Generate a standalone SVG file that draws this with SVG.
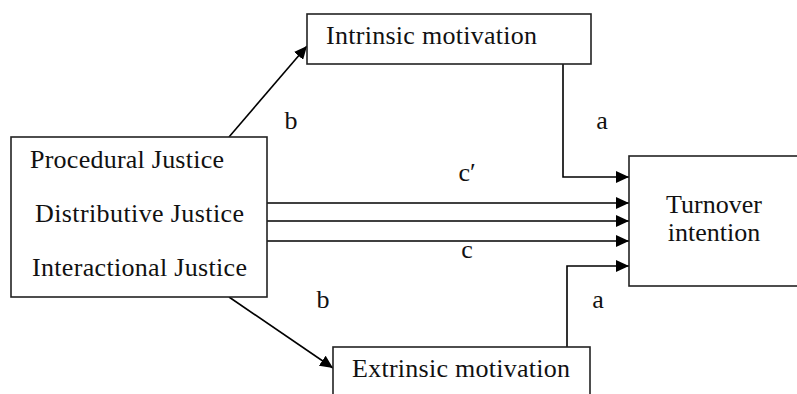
<svg xmlns="http://www.w3.org/2000/svg" width="797" height="394" viewBox="0 0 797 394">
<style>
.box{fill:#fff;stroke:#222;stroke-width:1.6}
.t{font-family:"Liberation Serif","Times New Roman",serif;font-size:26px;fill:#111}
.ln{fill:none;stroke:#000;stroke-width:1.6}
</style>
<defs>
<marker id="ah" viewBox="0 0 13 12" refX="13" refY="6" markerWidth="13" markerHeight="12" markerUnits="userSpaceOnUse" orient="auto">
<path d="M0,0 L13,6 L0,12 z" fill="#000"/>
</marker>
</defs>
<rect width="797" height="394" fill="#fff"/>
<g id="connectors">
<line class="ln" x1="229" y1="137" x2="307" y2="46" marker-end="url(#ah)"/>
<line class="ln" x1="229" y1="297" x2="333" y2="368" marker-end="url(#ah)"/>
<polyline class="ln" points="563,64 563,177 629,177" marker-end="url(#ah)"/>
<polyline class="ln" points="567,347 567,266 629,266" marker-end="url(#ah)"/>
<line class="ln" x1="267" y1="203" x2="629" y2="203" marker-end="url(#ah)"/>
<line class="ln" x1="267" y1="221" x2="629" y2="221" marker-end="url(#ah)"/>
<line class="ln" x1="265" y1="241" x2="629" y2="241" marker-end="url(#ah)"/>
<text class="t" x="291" y="129" text-anchor="middle">b</text>
<text class="t" x="602" y="129" text-anchor="middle">a</text>
<text class="t" x="467" y="181" text-anchor="middle">c′</text>
<text class="t" x="467" y="258" text-anchor="middle">c</text>
<text class="t" x="323" y="308" text-anchor="middle">b</text>
<text class="t" x="598" y="308" text-anchor="middle">a</text>
</g>
<g id="justice">
<rect class="box" x="11" y="137" width="256" height="160"/>
<text class="t" x="30" y="168" textLength="194">Procedural Justice</text>
<text class="t" x="35" y="222" textLength="209">Distributive Justice</text>
<text class="t" x="32" y="276" textLength="215">Interactional Justice</text>
</g>
<g id="intrinsic">
<rect class="box" x="307" y="14" width="284" height="50"/>
<text class="t" x="326" y="44" textLength="211">Intrinsic motivation</text>
</g>
<g id="turnover">
<rect class="box" x="629" y="156" width="170" height="130"/>
<text class="t" x="714" y="213" text-anchor="middle">Turnover</text>
<text class="t" x="714" y="241" text-anchor="middle">intention</text>
</g>
<g id="extrinsic">
<rect class="box" x="333" y="347" width="257" height="60"/>
<text class="t" x="352" y="377" textLength="218">Extrinsic motivation</text>
</g>
</svg>
